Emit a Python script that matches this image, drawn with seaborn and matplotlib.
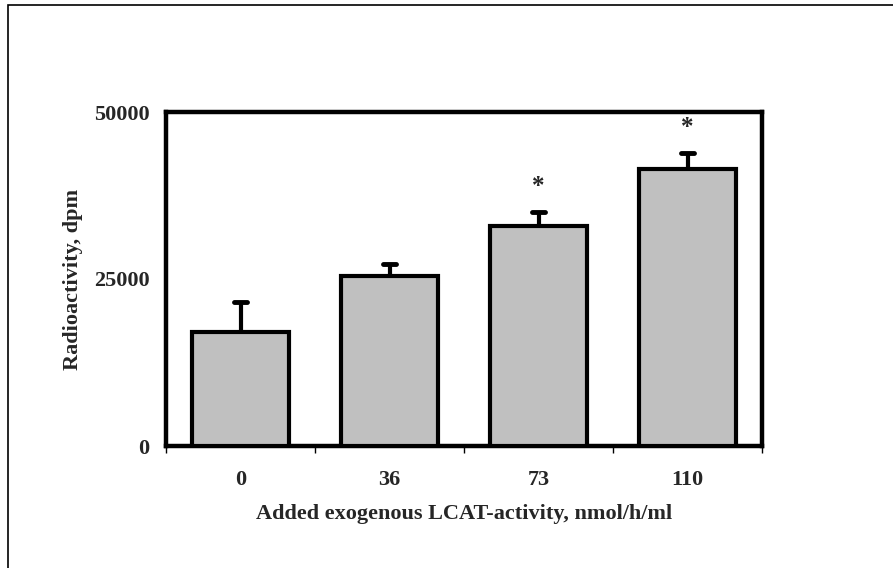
import matplotlib
matplotlib.use("Agg")
import matplotlib.pyplot as plt
from matplotlib.patches import Rectangle
import seaborn as sns
import pandas as pd

# LCAT activity added (nmol/h/ml) and measured radioactivity (dpm)
activity = ["0", "36", "73", "110"]
radioactivity = [17000, 25400, 33000, 41500]
sem_upper = [4500, 1800, 2000, 2400]
significant = [False, False, True, True]

sns.set_theme(style="white")
plt.rcParams["font.family"] = ["Liberation Serif", "DejaVu Serif"]
plt.rcParams["font.weight"] = "bold"

df = pd.DataFrame({"activity": activity, "dpm": radioactivity})

fig = plt.figure(figsize=(8.93, 5.68), dpi=100)
ax = fig.add_axes([166 / 893, 1 - 446 / 568, 596 / 893, 334 / 568])

# outer frame around the whole figure
fig.patches.append(Rectangle((8 / 893, -0.5), 2.0, 1.5 - 5 / 568,
                             transform=fig.transFigure, fill=False,
                             edgecolor="black", linewidth=1.2))

sns.barplot(data=df, x="activity", y="dpm", ax=ax, color="#c0c0c0",
            saturation=1, width=0.645, edgecolor="black", linewidth=3,
            errorbar=None, zorder=3)

# upper-only error bars with rounded caps
xs = range(len(activity))
for x, v, e in zip(xs, radioactivity, sem_upper):
    ax.plot([x, x], [v, v + e], color="black", lw=3, solid_capstyle="butt", zorder=2)
    ax.plot([x - 0.045, x + 0.045], [v + e, v + e], color="black", lw=3.5,
            solid_capstyle="round", zorder=2)

for x, v, e, s in zip(xs, radioactivity, sem_upper, significant):
    if s:
        ax.annotate("*", xy=(x, v + e), xytext=(0, 10), textcoords="offset points",
                    ha="center", va="bottom", fontsize=18, fontweight="bold")

ax.set_ylim(0, 50000)
ax.set_xlim(-0.5, 3.5)
ax.set_yticks([0, 25000, 50000])
ax.set_yticklabels(["0", "25000", "50000"])
ax.set_xticks([-0.5, 0.5, 1.5, 2.5, 3.5], minor=True)
ax.tick_params(axis="x", which="major", length=0, pad=17, labelsize=16)
ax.tick_params(axis="x", which="minor", length=5, width=1, direction="out", color="black", bottom=True)
ax.tick_params(axis="y", length=0, pad=12, labelsize=16)

for sp in ax.spines.values():
    sp.set_visible(True)
    sp.set_color("black")
    sp.set_linewidth(3.2)

ax.set_xlabel("Added exogenous LCAT-activity, nmol/h/ml", fontsize=16,
              fontweight="bold", labelpad=10)
ax.set_ylabel("Radioactivity, dpm", fontsize=16, fontweight="bold", labelpad=8)

fig.savefig("out.png", dpi=100)
